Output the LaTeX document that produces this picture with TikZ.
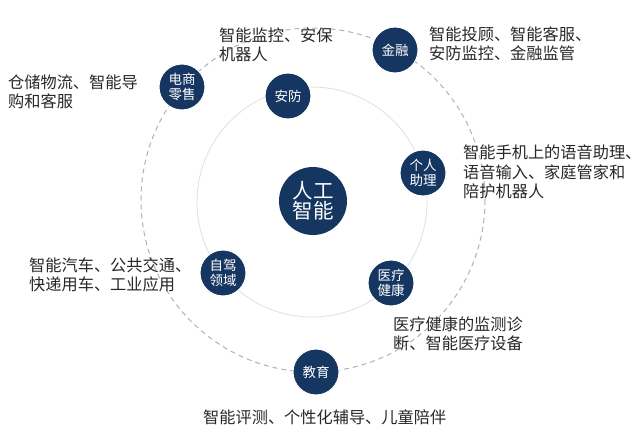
\documentclass[tikz,border=0pt]{standalone}
\usepackage{fontspec}
\newfontfamily\cjk{Noto Sans CJK SC}
\definecolor{navy}{RGB}{22,54,98}
\definecolor{txt}{RGB}{40,40,40}
\begin{document}
\begin{tikzpicture}[x=1pt,y=-1pt,
  hub/.style={circle,fill=navy,draw=white,line width=1pt,minimum size=46pt,inner sep=0pt,text=white,align=center,font=\cjk\fontsize{13.5}{15.5}\selectfont},
  core/.style={circle,fill=navy,minimum size=68pt,inner sep=0pt,text=white,align=center,font=\cjk\fontsize{20.5}{22}\selectfont},
  lbl/.style={anchor=west,inner sep=0pt,align=left,text=txt,font=\cjk\fontsize{16.2}{19.5}\selectfont}]
\useasboundingbox (0,0) rectangle (640,439);
\fill[white] (0,0) rectangle (640,439);
\draw[black!12,line width=0.8pt] (312,202) circle (115);
\draw[black!30,line width=1pt,dash pattern=on 5pt off 4pt] (313,200) circle (172);
\node[core] (ai) at (313,201) {人工\\[-2pt]智能};
\node[hub] (af) at (288,96) {安防};
\node[hub] (gr) at (423,173) {个人\\助理};
\node[hub] (zj) at (223,273) {自驾\\领域};
\node[hub] (yl) at (391,283) {医疗\\健康};
\node[hub] (ds) at (182,87) {电商\\零售};
\node[hub] (jr) at (395,50) {金融};
\node[hub] (jy) at (316,372) {教育};
\node[lbl] (taf) at (219,45) {智能监控、安保\\机器人};
\node[lbl] (tjr) at (429,44) {智能投顾、智能客服、\\安防监控、金融监管};
\node[lbl] (tds) at (8,92) {仓储物流、智能导\\购和客服};
\node[lbl] (tgr) at (463,172) {智能手机上的语音助理、\\语音输入、家庭管家和\\陪护机器人};
\node[lbl] (tzj) at (29,275) {智能汽车、公共交通、\\快递用车、工业应用};
\node[lbl] (tyl) at (393,334) {医疗健康的监测诊\\断、智能医疗设备};
\node[lbl] (tjy) at (203,417) {智能评测、个性化辅导、儿童陪伴};
\end{tikzpicture}
\end{document}
